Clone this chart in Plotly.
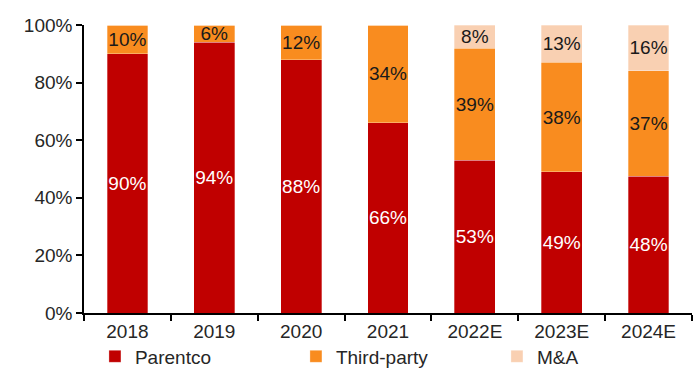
import plotly.graph_objects as go

categories = ["2018", "2019", "2020", "2021", "2022E", "2023E", "2024E"]
parentco = [90, 94, 88, 66, 53, 49, 48]
third_party = [10, 6, 12, 34, 39, 38, 37]
mna = [0, 0, 0, 0, 8, 13, 16]
y_ticks = [0, 20, 40, 60, 80, 100]

def labels(vals):
    return [f"{v}%" if v else "" for v in vals]

FONT = "Liberation Sans, Arial, sans-serif"
FS = 19

fig = go.Figure()
series = [
    ("Parentco", parentco, "#C00000", "white"),
    ("Third-party", third_party, "#F98C1F", "#1a1a1a"),
    ("M&A", mna, "#F9D0B2", "#1a1a1a"),
]
for name, vals, color, tcolor in series:
    fig.add_trace(go.Bar(
        x=categories, y=vals, name=name,
        marker=dict(color=color, line=dict(color="rgba(255,255,255,0.6)", width=0.5)),
        text=labels(vals), texttemplate="%{text}",
        textposition="inside", insidetextanchor="middle", textangle=0,
        textfont=dict(color=tcolor, size=FS, family=FONT),
        hoverinfo="skip",
    ))

fig.update_layout(
    barmode="stack", barnorm="percent", bargap=0.53,
    width=700, height=373,
    margin=dict(l=84, r=8, t=25, b=60, autoexpand=False),
    plot_bgcolor="white", paper_bgcolor="white",
    font=dict(family=FONT, size=FS, color="#262626"),
    uniformtext=dict(minsize=FS, mode="show"),
    showlegend=True,
    legend=dict(orientation="h", x=0.018, xanchor="left", y=-0.085, yanchor="top",
                bgcolor="rgba(0,0,0,0)",
                font=dict(size=FS, color="#262626"), entrywidth=156,
                entrywidthmode="pixels", traceorder="normal", itemclick=False,
                itemwidth=30),
)
fig.update_xaxes(
    type="category", showline=True, linecolor="black", linewidth=1.5,
    ticks="outside", tickson="boundaries", ticklen=6, tickcolor="black",
    tickwidth=1.5, showgrid=False, tickfont=dict(size=FS, color="#262626"),
)
fig.update_yaxes(
    range=[0, 100], tickvals=y_ticks, ticktext=[f"{v}%" for v in y_ticks],
    showline=True, linecolor="black", linewidth=1.5, ticks="outside",
    ticklen=6, tickcolor="black", tickwidth=1.5, showgrid=False, zeroline=False,
    tickfont=dict(size=FS, color="#262626"),
)

fig.write_html("out.html", config={"displayModeBar": False},
               post_script="document.body.style.margin='0';document.body.style.overflow='hidden';")
